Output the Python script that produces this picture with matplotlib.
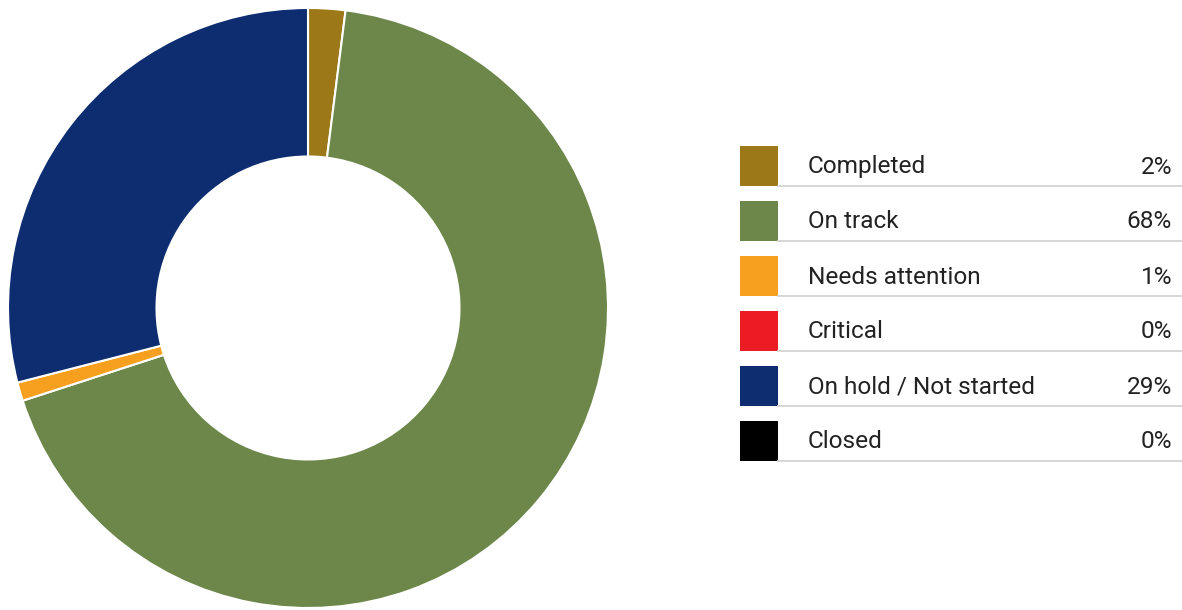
import matplotlib.pyplot as plt
from matplotlib.patches import Rectangle

categories = ['Completed', 'On track', 'Needs attention', 'Critical', 'On hold / Not started', 'Closed']
shares = [2, 68, 1, 0, 29, 0]
colors = ['#9C7819', '#6C8749', '#F79F1F', '#EC1C24', '#0E2D71', '#000000']

W, H = 1182, 610
fig = plt.figure(figsize=(W / 100, H / 100), dpi=100)

# donut
ax = fig.add_axes([8 / W, 2 / H, 600 / W, 600 / H])
vals = [v for v in shares if v > 0]
cols = [c for v, c in zip(shares, colors) if v > 0]
ax.pie(vals, colors=cols, startangle=90, counterclock=False, radius=1,
       wedgeprops=dict(width=0.495, edgecolor='white', linewidth=1.5))
ax.set_xlim(-1, 1)
ax.set_ylim(-1, 1)
ax.set_aspect('equal')
ax.axis('off')

# legend table in pixel coords
lg = fig.add_axes([0, 0, 1, 1])
lg.set_xlim(0, W)
lg.set_ylim(H, 0)
lg.axis('off')
for i, (name, v, c) in enumerate(zip(categories, shares, colors)):
    top = 146 + i * 55
    lg.add_patch(Rectangle((740, top), 38, 40, facecolor=c, edgecolor='none'))
    lg.plot([778, 1182], [top + 40, top + 40], color='#D3D3D3', lw=1.3)
    lg.text(808, top + 21, name, fontsize=17.6, family='Roboto',
            color='#222222', va='center', ha='left')
    lg.text(1172, top + 21, f'{v}%', fontsize=17.6, family='Roboto',
            color='#222222', va='center', ha='right')

fig.savefig('out.png', dpi=100)
